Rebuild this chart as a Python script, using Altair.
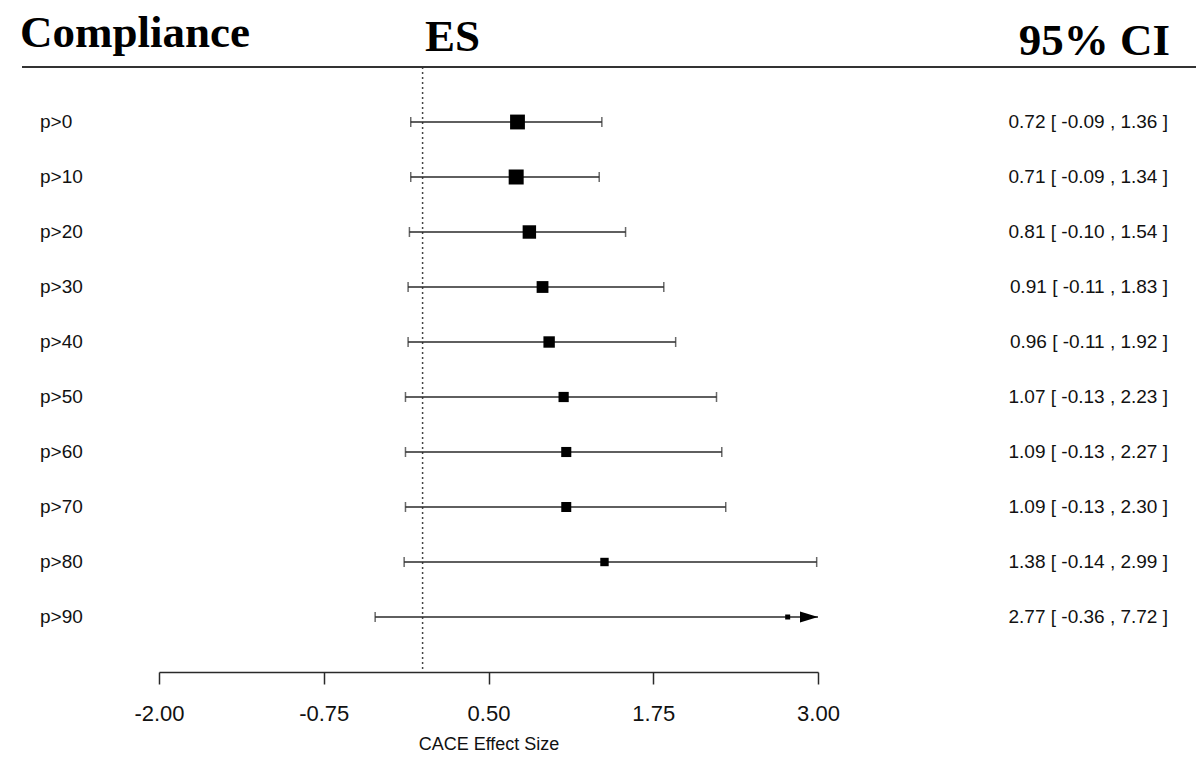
import altair as alt
import pandas as pd

labels = ["p>0", "p>10", "p>20", "p>30", "p>40", "p>50", "p>60", "p>70", "p>80", "p>90"]
es = [0.72, 0.71, 0.81, 0.91, 0.96, 1.07, 1.09, 1.09, 1.38, 2.77]
lo = [-0.09, -0.09, -0.10, -0.11, -0.11, -0.13, -0.13, -0.13, -0.14, -0.36]
hi = [1.36, 1.34, 1.54, 1.83, 1.92, 2.23, 2.27, 2.30, 2.99, 7.72]
x_lim = [-2.0, 3.0]
tick_values = [-2.0, -0.75, 0.5, 1.75, 3.0]
ref_value = [0.0]

df = pd.DataFrame({"label": labels, "es": es, "lo": lo, "hi": hi})
df["hi_c"] = df["hi"].clip(upper=x_lim[1])
df["capped"] = df["hi"] <= x_lim[1]
df["ci_text"] = [f"{e:.2f} [ {l:.2f} , {h:.2f} ]" for e, l, h in zip(es, lo, hi)]
inv_se = 3.92 / (df["hi"] - df["lo"])
df["psize"] = 0.5 + (inv_se - inv_se.min()) / (inv_se.max() - inv_se.min())

SANS = "Liberation Sans"
SERIF = "Liberation Serif"
INK = "#2a2a2a"

xscale = alt.Scale(domain=x_lim, nice=False, zero=False)
Y = alt.Y("label:N", sort=labels, scale=alt.Scale(type="point", padding=1), axis=None)

base = alt.Chart(df)

ci = base.mark_rule(color=INK, strokeWidth=1.5).encode(
    x=alt.X("lo:Q", scale=xscale,
            axis=alt.Axis(values=tick_values, format=".2f", title="CACE Effect Size", grid=False,
                          labelFlush=False, labelExpr="replace(datum.label, '\u2212', '-')")),
    x2="hi_c:Q",
    y=Y,
)
caps_lo = base.mark_tick(orient="vertical", size=10, thickness=1.5, color=INK).encode(
    x=alt.X("lo:Q", scale=xscale), y=Y)
caps_hi = base.transform_filter("datum.capped").mark_tick(
    orient="vertical", size=10, thickness=1.5, color=INK).encode(
    x=alt.X("hi:Q", scale=xscale), y=Y)
arrows = base.transform_filter("!datum.capped").mark_point(
    shape="M -1 -0.6 L 1 0 L -1 0.6 Z", filled=True, size=324, xOffset=-9,
    color="black", opacity=1).encode(x=alt.X("hi_c:Q", scale=xscale), y=Y)
boxes = base.mark_point(shape="square", filled=True, color="black", opacity=1).encode(
    x=alt.X("es:Q", scale=xscale),
    y=Y,
    size=alt.Size("psize:Q", scale=alt.Scale(type="pow", exponent=2, domain=[0, 1.5], range=[0, 225]),
                  legend=None),
)
left_text = base.mark_text(align="left", baseline="middle", font=SANS, fontSize=19, color="#111").encode(
    x=alt.value(-119), y=Y, text="label:N")
right_text = base.mark_text(align="right", baseline="middle", font=SANS, fontSize=19, color="#111").encode(
    x=alt.value(1009), y=Y, text="ci_text:N")

zero = alt.Chart(pd.DataFrame({"ref": ref_value})).mark_rule(
    strokeDash=[2, 3], color="#444", strokeWidth=1.5).encode(x=alt.X("ref:Q", scale=xscale))

h1 = alt.Chart(pd.DataFrame({"t": ["Compliance"]})).mark_text(
    align="left", baseline="alphabetic", font=SERIF, fontWeight="bold", fontSize=45, color="black").encode(
    text="t:N", x=alt.value(-139), y=alt.value(-20))
h2 = alt.Chart(pd.DataFrame({"t": ["ES"]})).mark_text(
    align="left", baseline="alphabetic", font=SERIF, fontWeight="bold", fontSize=45, color="black").encode(
    text="t:N", x=alt.value(266), y=alt.value(-16))
h3 = alt.Chart(pd.DataFrame({"t": ["95% CI"]})).mark_text(
    align="right", baseline="alphabetic", font=SERIF, fontWeight="bold", fontSize=45, color="black").encode(
    text="t:N", x=alt.value(1011), y=alt.value(-12))
hline = alt.Chart(pd.DataFrame({"t": [0]})).mark_rule(color="#333", strokeWidth=2).encode(
    x=alt.value(-137), x2=alt.value(1037), y=alt.value(0))

chart = alt.layer(zero, hline, ci, caps_lo, caps_hi, arrows, boxes, left_text, right_text, h1, h2, h3).properties(
    width=659,
    height=605,
    background="white",
    autosize=alt.AutoSizeParams(type="none"),
    padding={"left": 151, "top": 59, "right": 378, "bottom": 86},
).configure_view(stroke=None).configure_axis(
    grid=False,
    domainColor=INK,
    domainWidth=1.5,
    tickColor=INK,
    tickWidth=1.5,
    tickSize=12,
    labelFont=SANS,
    labelFontSize=22,
    labelColor="#111",
    labelPadding=19,
    titleFont=SANS,
    titleFontSize=18,
    titleFontWeight="normal",
    titleColor="#111",
    titlePadding=11,
)

chart.save("out.html", embed_options={"renderer": "svg", "actions": False})
